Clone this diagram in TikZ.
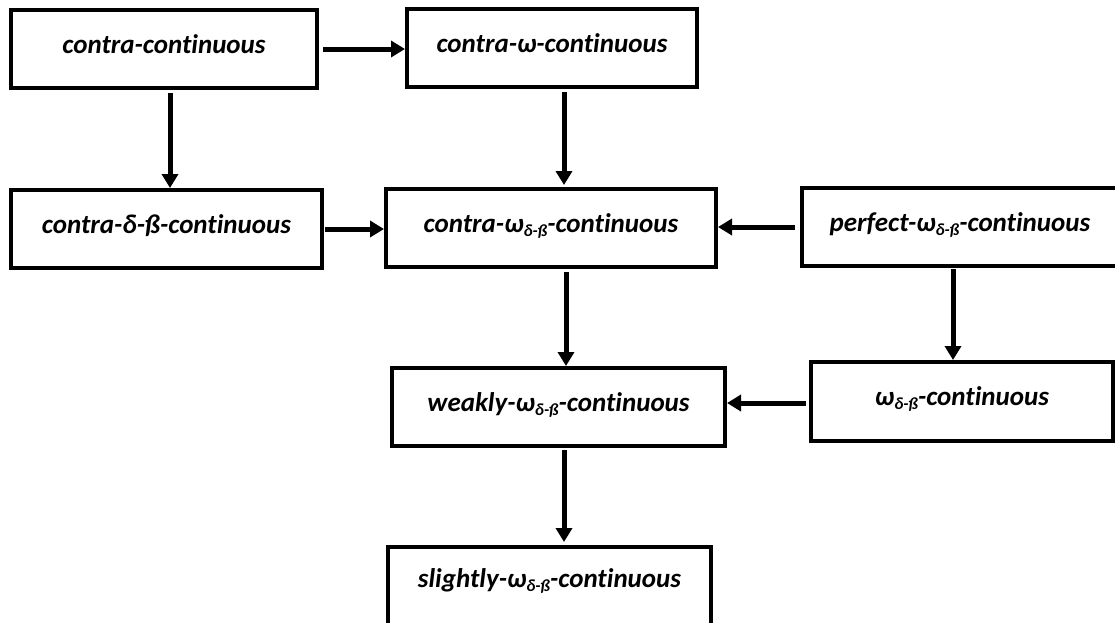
\documentclass[tikz,border=0pt]{standalone}
\usepackage{fontspec}
\setmainfont{Carlito}[Ligatures=NoCommon]
\usetikzlibrary{arrows.meta}

% lowered, smaller subscript for the delta-beta index
\newcommand{\dbsub}{\raisebox{-4pt}{\fontsize{17}{17}\selectfont δ-ß}}

\tikzset{
  box/.style={draw, line width=4pt, rectangle, inner sep=0pt,
    minimum height=78pt, text height=14pt, text depth=6pt,
    font=\fontsize{27}{31}\selectfont\bfseries\itshape},
  arr/.style={line width=5pt, -{Triangle[length=14pt,width=16pt]}}
}

\begin{document}
\begin{tikzpicture}[x=1pt, y=-1pt]
\useasboundingbox (0,0) rectangle (1115,622);

\node[box, minimum width=306pt] (b1) at (164,49) {contra-continuous};
\node[box, minimum width=290pt] (b2) at (552,48) {contra-ω-continuous};
\node[box, minimum width=311pt] (b3) at (166.5,229) {contra-δ-ß-continuous};
\node[box, minimum width=330pt] (b4) at (551,228) {contra-ω\dbsub-continuous};
\node[box, minimum width=316pt] (b5) at (960,227) {perfect-ω\dbsub-continuous};
\node[box, minimum width=333pt] (b6) at (558.5,407) {weakly-ω\dbsub-continuous};
\node[box, minimum width=302pt, minimum height=79pt] (b7) at (962,401.5) {ω\dbsub-continuous};
\node[box, minimum width=323pt, minimum height=81pt, text height=10pt, text depth=10pt] (b8) at (549.5,587.5) {slightly-ω\dbsub-continuous};

\draw[arr, shorten <=4pt] (b1.east) -- (b1.east -| b2.west);
\draw[arr, shorten <=3pt] ([xshift=6pt]b1.south) -- ([xshift=6pt]b1.south |- b3.north);
\draw[arr, shorten <=3pt, shorten >=2pt] ([xshift=12pt]b2.south) -- ([xshift=12pt]b2.south |- b4.north);
\draw[arr, shorten <=1pt] (b3.east) -- (b3.east -| b4.west);
\draw[arr, shorten <=5pt] (b5.west) -- (b5.west -| b4.east);
\draw[arr, shorten <=3pt] ([xshift=15pt]b4.south) -- ([xshift=15pt]b4.south |- b6.north);
\draw[arr, shorten <=1pt] ([xshift=-7pt]b5.south) -- ([xshift=-7pt]b5.south |- b7.north);
\draw[arr, shorten <=3pt] ([yshift=-1.5pt]b7.west) -- ([yshift=-1.5pt]b7.west -| b6.east);
\draw[arr, shorten <=2pt, shorten >=3pt] ([xshift=5.5pt]b6.south) -- ([xshift=5.5pt]b6.south |- b8.north);
\end{tikzpicture}
\end{document}
